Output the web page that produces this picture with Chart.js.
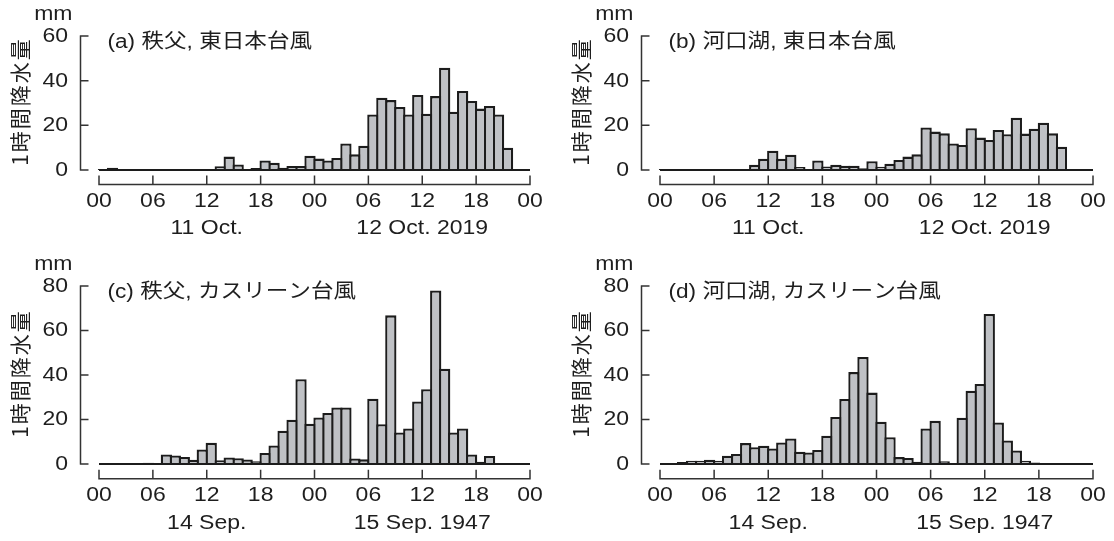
<!DOCTYPE html>
<html>
<head>
<meta charset="utf-8">
<script src="https://cdn.jsdelivr.net/npm/chart.js@4.4.1/dist/chart.umd.min.js"></script>
<style>
  html, body { margin: 0; padding: 0; background: #fff; }
  #wrap { position: relative; width: 1114px; height: 541px; overflow: hidden; }
  #wrap canvas { position: absolute; }
</style>
</head>
<body>
<div id="wrap">
  <canvas id="pa" width="557" height="250" style="left:0;top:0"></canvas>
  <canvas id="pb" width="557" height="250" style="left:557px;top:0"></canvas>
  <canvas id="pc" width="557" height="291" style="left:0;top:250px"></canvas>
  <canvas id="pd" width="557" height="291" style="left:557px;top:250px"></canvas>
</div>
<script>
// Hourly precipitation (mm), 48 hours starting at 00 of the first day
const chichibuHagibis = [
  0.5, 1, 0.5, 0, 0.5, 0, 0, 0, 0, 0, 0, 0,
  0, 1.7, 6, 2.5, 0, 0.9, 4.3, 3.2, 1, 1.8, 1.8, 6.4,
  5.1, 4.3, 5.4, 11.9, 7, 10.9, 24.9, 32.4, 31.3, 28.2, 24.9, 33.6,
  25.2, 33.1, 45.8, 26.1, 35.4, 30.9, 27.5, 28.7, 24.9, 10, 0, 0
];
const kawaguchikoHagibis = [
  0.4, 0.4, 0, 0, 0, 0, 0, 0, 0, 0, 2.3, 5,
  8.6, 5, 6.8, 1.3, 0.4, 4.3, 1.6, 2.3, 1.9, 1.9, 0.8, 3.9,
  1.5, 2.8, 4.5, 6, 7, 19, 17.2, 16.4, 11.9, 11.2, 18.7, 14.5,
  13.4, 17.9, 16, 23.4, 16.3, 18.5, 21.2, 16.4, 10.4, 0.4, 0, 0
];
const chichibuKathleen = [
  0, 0, 0, 0, 0, 0.6, 0.2, 4.3, 3.8, 3.2, 1.9, 6.5,
  9.5, 1.7, 2.9, 2.6, 2, 1.2, 5, 8.3, 15, 19.9, 38.1, 18.1,
  20.9, 22.9, 25.4, 25.4, 2.5, 2.1, 29.3, 17.9, 66.8, 14.2, 16, 28.1,
  33.6, 78, 42.8, 14.2, 16, 4.3, 1, 3.6, 0.4, 0, 0, 0
];
const kawaguchikoKathleen = [
  0, 0, 0.9, 1.5, 1.5, 1.9, 1.5, 3.7, 4.5, 9.4, 7.5, 8.2,
  7, 9.7, 11.5, 5.5, 5.2, 6.3, 12.7, 21.1, 29.2, 41.3, 48.1, 32.1,
  19, 12, 3.1, 2.7, 1, 16, 19.4, 1.2, 0.3, 20.8, 32.9, 36,
  67.4, 18.7, 10.6, 6.1, 1.5, 0.7, 0, 0, 0, 0, 0, 0
];

// Axis ticks and labels
const hourTicks = [0, 6, 12, 18, 24, 30, 36, 42, 48];
const hourTickLabels = ['00', '06', '12', '18', '00', '06', '12', '18', '00'];
const dayLabelHours = [12, 36];
const hagibisDays = ['11 Oct.', '12 Oct. 2019'];
const kathleenDays = ['14 Sep.', '15 Sep. 1947'];
const hagibisYTicks = [0, 20, 40, 60];
const kathleenYTicks = [0, 20, 40, 60, 80];
const panelTitles = [
  '(a) 秩父, 東日本台風',
  '(b) 河口湖, 東日本台風',
  '(c) 秩父, カスリーン台風',
  '(d) 河口湖, カスリーン台風'
];
const yAxisTitle = '1時間降水量';
const yUnit = 'mm';

const INK = '#1e1e1e';
const AXIS = '#333333';
const LATIN = '"Liberation Sans", Arial, Helvetica, sans-serif';
const CJK = '"Liberation Sans", "Noto Sans CJK JP", sans-serif';
const LATIN_STRETCH = 1.18;
const TITLE_STRETCH = 1.13;
const BAR_EDGE = 2.3;

function stretchedText(ctx, text, x, y, font, align, baseline, sx) {
  ctx.save();
  ctx.translate(x, y);
  ctx.scale(sx, 1);
  ctx.font = font;
  ctx.fillStyle = INK;
  ctx.textAlign = align;
  ctx.textBaseline = baseline;
  ctx.fillText(text, 0, 0);
  ctx.restore();
}

// Detached axes, zero line and annotations
const frame = {
  id: 'frame',
  afterDatasetsDraw(chart, args, opts) {
    const ctx = chart.ctx;
    const xs = chart.scales.x, ys = chart.scales.y;
    const area = chart.chartArea;
    const x0 = xs.getPixelForValue(0), x48 = xs.getPixelForValue(48);
    const yZero = ys.getPixelForValue(0);
    const yTop = ys.getPixelForValue(opts.yTicks[opts.yTicks.length - 1]);
    const axisX = area.left + 0.5;
    const axisY = area.bottom - 0.5;

    ctx.save();
    // zero line under the bars
    ctx.strokeStyle = '#1c1c1c';
    ctx.lineWidth = 2.2;
    ctx.beginPath();
    ctx.moveTo(x0, yZero);
    ctx.lineTo(x48, yZero);
    ctx.stroke();

    // y axis with inward ticks
    ctx.strokeStyle = AXIS;
    ctx.lineWidth = 1.5;
    ctx.beginPath();
    ctx.moveTo(axisX, yTop);
    ctx.lineTo(axisX, yZero);
    opts.yTicks.forEach(v => {
      const y = ys.getPixelForValue(v);
      ctx.moveTo(axisX - 0.7, y);
      ctx.lineTo(axisX + 8, y);
    });
    // x axis with upward ticks
    ctx.moveTo(x0, axisY);
    ctx.lineTo(x48, axisY);
    hourTicks.forEach(h => {
      const x = xs.getPixelForValue(h);
      ctx.moveTo(x, axisY + 0.7);
      ctx.lineTo(x, axisY - 9);
    });
    ctx.stroke();
    ctx.restore();

    const tickFont = '19.5px ' + LATIN;
    opts.yTicks.forEach(v => {
      stretchedText(ctx, String(v), axisX - 12.5, ys.getPixelForValue(v) + 0.5, tickFont, 'right', 'middle', LATIN_STRETCH);
    });
    hourTicks.forEach((h, i) => {
      stretchedText(ctx, hourTickLabels[i], xs.getPixelForValue(h), axisY + 17, tickFont, 'center', 'middle', LATIN_STRETCH);
    });
    dayLabelHours.forEach((h, i) => {
      stretchedText(ctx, opts.days[i], xs.getPixelForValue(h), axisY + 44.5, tickFont, 'center', 'middle', LATIN_STRETCH);
    });
    stretchedText(ctx, yUnit, axisX - 8, 20, tickFont, 'right', 'alphabetic', LATIN_STRETCH);
    stretchedText(ctx, opts.title, axisX + 27, yTop + 6, '20px ' + CJK, 'left', 'middle', TITLE_STRETCH);

    // vertical axis title
    ctx.save();
    ctx.translate(axisX - 60, (yTop + yZero) / 2 - 1.5);
    ctx.rotate(-Math.PI / 2);
    ctx.font = '21px "Noto Sans CJK JP", sans-serif';
    if ('letterSpacing' in ctx) ctx.letterSpacing = '2px';
    ctx.fillStyle = INK;
    ctx.textAlign = 'center';
    ctx.textBaseline = 'middle';
    ctx.fillText(yAxisTitle, 0, 0);
    ctx.restore();
  }
};

function drawPanel(canvasId, values, yTicks, title, days, geo) {
  const canvas = document.getElementById(canvasId);
  const W = canvas.width, H = canvas.height;
  const yMax = yTicks[yTicks.length - 1];
  const pxPerHour = (geo.x48 - geo.x0) / 48;
  const padHours = (geo.x0 - geo.axisX) / pxPerHour;
  const pxPerUnit = (geo.y0 - geo.yTopPx) / yMax;
  const yMin = -(geo.xAxisY - geo.y0) / pxPerUnit;
  const rightPx = geo.x48 + (geo.x0 - geo.axisX);

  new Chart(canvas, {
    type: 'bar',
    data: {
      datasets: [{
        data: values.map((v, i) => ({ x: i + 0.5, y: v })),
        backgroundColor: '#bfc1c5',
        borderColor: '#1c1c1c',
        borderWidth: BAR_EDGE,
        borderSkipped: 'start',
        inflateAmount: 0,
        // neighbouring bars overlap by one edge so shared sides stay single-width
        barPercentage: 1 + BAR_EDGE / pxPerHour,
        categoryPercentage: 1
      }]
    },
    options: {
      responsive: false,
      animation: false,
      events: [],
      layout: {
        padding: { left: geo.axisX, right: W - rightPx, top: geo.yTopPx, bottom: H - geo.xAxisY }
      },
      scales: {
        x: { type: 'linear', display: false, offset: false, min: -padHours, max: 48 + padHours },
        y: { type: 'linear', display: false, min: yMin, max: yMax }
      },
      plugins: {
        legend: { display: false },
        tooltip: { enabled: false },
        frame: { yTicks, title, days }
      }
    },
    plugins: [frame]
  });
}

const topRow = { yTopPx: 36, y0: 170, xAxisY: 185 };
const bottomRow = { yTopPx: 36, y0: 214, xAxisY: 229.3 };
const leftCol = { axisX: 80, x0: 99, x48: 530 };
const rightCol = { axisX: 84, x0: 103, x48: 536 };

drawPanel('pa', chichibuHagibis, hagibisYTicks, panelTitles[0], hagibisDays, Object.assign({}, topRow, leftCol));
drawPanel('pb', kawaguchikoHagibis, hagibisYTicks, panelTitles[1], hagibisDays, Object.assign({}, topRow, rightCol));
drawPanel('pc', chichibuKathleen, kathleenYTicks, panelTitles[2], kathleenDays, Object.assign({}, bottomRow, leftCol));
drawPanel('pd', kawaguchikoKathleen, kathleenYTicks, panelTitles[3], kathleenDays, Object.assign({}, bottomRow, rightCol));
</script>
</body>
</html>
